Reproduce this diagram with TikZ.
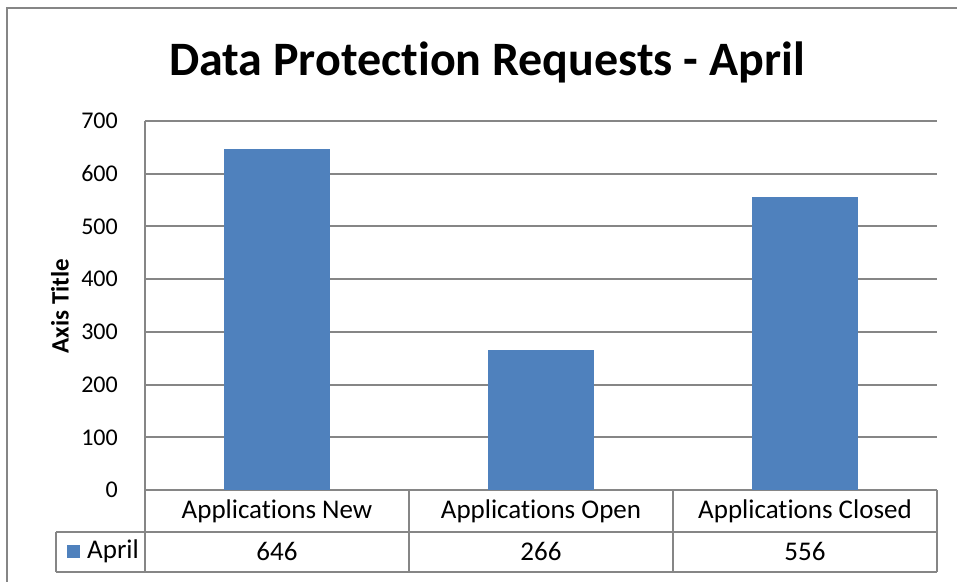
\documentclass[tikz,border=0pt]{standalone}
\usepackage{fontspec}
\setmainfont{Carlito}[Ligatures=NoCommon]
\definecolor{barblue}{RGB}{79,129,189}
\definecolor{gridgray}{RGB}{134,134,134}
\tikzset{
	gridline/.style={gridgray, line width=2pt},
	barbox/.style={fill=barblue, draw=none},
	ticklabel/.style={left, inner sep=0pt, font=\fontsize{24}{28}\selectfont},
	celltext/.style={inner sep=0pt, font=\fontsize{27}{30}\selectfont}
}
\begin{document}
\begin{tikzpicture}[x=1pt, y=-1pt]
	\useasboundingbox (0, 0) rectangle (957, 581);
	\draw[gridgray, line width=1.5pt] (7, 590) -- (7, 8) -- (965, 8);

	\node[font=\bfseries\fontsize{48}{54}\selectfont, inner sep=0pt] (title) at (487, 62) {Data Protection Requests - April};

	\foreach \v/\lab in {0/0, 1/100, 2/200, 3/300, 4/400, 5/500, 6/600, 7/700} {
		\draw[gridline] (145, 490 - 52.71*\v) -- (937, 490 - 52.71*\v);
		\node[ticklabel] (tick\v) at (118, 490 - 52.71*\v) {\lab};
	}
	\draw[gridline] (145, 121) -- (145, 490);

	\node[rotate=90, font=\bfseries\fontsize{25}{28}\selectfont, inner sep=0pt] (ytitle) at (60, 306) {Axis Title};

	\fill[barbox] (224, 490) rectangle (330, 490 - 0.5271*646);
	\fill[barbox] (488, 490) rectangle (594, 490 - 0.5271*266);
	\fill[barbox] (752, 490) rectangle (858, 490 - 0.5271*556);

	% data table
	\draw[gridline] (145, 490) -- (145, 572);
	\draw[gridline] (409, 490) -- (409, 572);
	\draw[gridline] (673, 490) -- (673, 572);
	\draw[gridline] (937, 490) -- (937, 572);
	\draw[gridline] (56, 532) -- (937, 532);
	\draw[gridline] (56, 572) -- (937, 572);
	\draw[gridline] (56, 532) -- (56, 572);

	\node[celltext] (catnew) at (277, 511) {Applications New};
	\node[celltext] (catopen) at (541, 511) {Applications Open};
	\node[celltext] (catclosed) at (805, 511) {Applications Closed};
	\fill[barblue] (67, 545) rectangle (80, 558);
	\node[celltext, right] (series) at (87, 551) {April};
	\node[celltext] (valnew) at (277, 551) {646};
	\node[celltext] (valopen) at (541, 551) {266};
	\node[celltext] (valclosed) at (805, 551) {556};
\end{tikzpicture}
\end{document}
